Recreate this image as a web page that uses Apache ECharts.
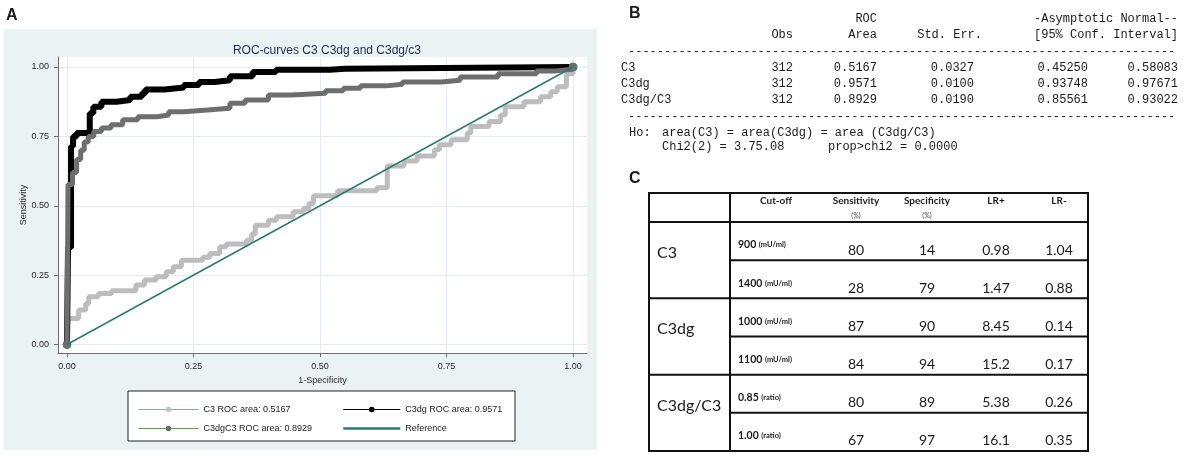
<!DOCTYPE html>
<html>
<head>
<meta charset="utf-8">
<title>ROC-curves C3 C3dg and C3dg/c3</title>
<script src="https://cdn.jsdelivr.net/npm/echarts@6.0.0/dist/echarts.min.js"></script>
<style>
  html, body { margin: 0; padding: 0; background: #fff; }
  #main { width: 1183px; height: 455px; }
</style>
</head>
<body>
<div id="main"></div>
<script>
// ROC steps: each pair is (1-specificity, sensitivity) at the
// left end of a horizontal step
var c3Fpr = [0, 0.002, 0.023, 0.037, 0.043, 0.062, 0.088, 0.136, 0.153, 0.176, 0.196, 0.21, 0.226, 0.268, 0.282, 0.302, 0.315, 0.355, 0.365, 0.372, 0.398, 0.414, 0.447, 0.467, 0.478, 0.487, 0.535, 0.612, 0.633, 0.666, 0.692, 0.726, 0.736, 0.759, 0.791, 0.798, 0.834, 0.857, 0.866, 0.903, 0.936, 0.956, 0.969, 0.987, 1];
var c3Tpr = [0, 0.094, 0.124, 0.148, 0.172, 0.184, 0.194, 0.214, 0.232, 0.244, 0.262, 0.28, 0.304, 0.314, 0.328, 0.352, 0.362, 0.376, 0.398, 0.43, 0.448, 0.46, 0.478, 0.49, 0.508, 0.536, 0.554, 0.565, 0.643, 0.661, 0.679, 0.702, 0.72, 0.738, 0.762, 0.786, 0.804, 0.827, 0.857, 0.875, 0.893, 0.911, 0.929, 0.976, 1];

var c3dgFpr = [0, 0.002, 0.008, 0.012, 0.019, 0.045, 0.052, 0.068, 0.098, 0.125, 0.148, 0.155, 0.193, 0.231, 0.261, 0.292, 0.322, 0.367, 0.413, 0.519, 0.549, 1];
var c3dgTpr = [0, 0.35, 0.714, 0.75, 0.762, 0.833, 0.857, 0.875, 0.881, 0.893, 0.905, 0.919, 0.926, 0.935, 0.946, 0.952, 0.967, 0.982, 0.99, 0.994, 1, 1];

var ratioFpr = [0, 0.002, 0.011, 0.019, 0.027, 0.034, 0.042, 0.053, 0.068, 0.087, 0.11, 0.14, 0.178, 0.201, 0.231, 0.277, 0.322, 0.352, 0.398, 0.443, 0.511, 0.546, 0.58, 0.63, 0.663, 0.739, 0.777, 0.852, 0.928, 0.966, 1];
var ratioTpr = [0, 0.577, 0.62, 0.667, 0.70, 0.73, 0.75, 0.768, 0.78, 0.792, 0.81, 0.821, 0.827, 0.839, 0.845, 0.851, 0.869, 0.881, 0.899, 0.905, 0.914, 0.923, 0.932, 0.938, 0.946, 0.952, 0.964, 0.976, 0.986, 0.992, 1];

var refX = [0, 1];
var refY = [0, 1];

var axisTicks = [0, 0.25, 0.5, 0.75, 1];

var seriesNames = ["C3 ROC area: 0.5167", "C3dg ROC area: 0.9571", "C3dgC3 ROC area: 0.8929", "Reference"];

// panel B (Stata roccomp output)
var bRows = ["C3", "C3dg", "C3dg/C3"];
var bObs = ["312", "312", "312"];
var bArea = ["0.5167", "0.9571", "0.8929"];
var bStdErr = ["0.0327", "0.0100", "0.0190"];
var bCiLow = ["0.45250", "0.93748", "0.85561"];
var bCiHigh = ["0.58083", "0.97671", "0.93022"];

// panel C (cut-off table)
var cGroups = ["C3", "C3dg", "C3dg/C3"];
var cCutoff = ["900", "1400", "1000", "1100", "0.85", "1.00"];
var cUnit = ["(mU/ml)", "(mU/ml)", "(mU/ml)", "(mU/ml)", "(ratio)", "(ratio)"];
var cSens = ["80", "28", "87", "84", "80", "67"];
var cSpec = ["14", "79", "90", "94", "89", "97"];
var cLrPos = ["0.98", "1.47", "8.45", "15.2", "5.38", "16.1"];
var cLrNeg = ["1.04", "0.88", "0.14", "0.17", "0.26", "0.35"];

function pairs(xs, ys) {
  return xs.map(function (x, i) { return [x, ys[i]]; });
}

// plot region in pixels, and where 0 and 1 fall inside it
var GL = 58, GR = 587, GT = 57, GB = 353;
var X0 = 67, X1 = 573, Y1 = 67, Y0 = 344.5;
var xMin = (GL - X0) / (X1 - X0), xMax = 1 + (GR - X1) / (X1 - X0);
var yMin = -(GB - Y0) / (Y0 - Y1), yMax = 1 + (Y1 - GT) / (Y0 - Y1);

var sans = "Liberation Sans, Arial, sans-serif";
var mono = "Liberation Mono, DejaVu Sans Mono, monospace";
var cal = "Lato, Noto Sans, sans-serif";

function txt(x, y, s, size, align, family, extra) {
  var style = {
    text: s, x: x, y: y, fontSize: size, fontFamily: family,
    textAlign: align, textVerticalAlign: "middle", fill: "#1a1a1a"
  };
  for (var k in extra) style[k] = extra[k];
  return { type: "text", silent: true, style: style };
}
function hline(x1, x2, y, w) {
  return { type: "line", silent: true, shape: { x1: x1, y1: y, x2: x2, y2: y }, style: { stroke: "#111", lineWidth: w } };
}
function vline(x, y1, y2, w) {
  return { type: "line", silent: true, shape: { x1: x, y1: y1, x2: x, y2: y2 }, style: { stroke: "#111", lineWidth: w } };
}

var graphics = [];
// panel A graph region + legend box
graphics.push({ type: "rect", z: -5, silent: true, shape: { x: 4, y: 29, width: 593, height: 421 }, style: { fill: "#eaf2f3" } });
graphics.push({ type: "rect", z: 3, silent: true, shape: { x: 128, y: 391, width: 387, height: 50 }, style: { fill: "#fff", stroke: "#222", lineWidth: 1 } });

// panel letters
graphics.push(txt(6, 16, "A", 16, "left", sans, { fontWeight: "bold" }));
graphics.push(txt(629, 14, "B", 16, "left", sans, { fontWeight: "bold" }));
graphics.push(txt(629, 179, "C", 16, "left", sans, { fontWeight: "bold" }));

// panel B
var bRight = [793, 877, 974, 1088, 1178];
graphics.push(txt(877, 19, "ROC", 12, "right", mono));
graphics.push(txt(1178, 19, "-Asymptotic Normal--", 12, "right", mono));
graphics.push(txt(793, 35, "Obs", 12, "right", mono));
graphics.push(txt(877, 35, "Area", 12, "right", mono));
graphics.push(txt(982, 35, "Std. Err.", 12, "right", mono));
graphics.push(txt(1178, 35, "[95% Conf. Interval]", 12, "right", mono));
graphics.push(txt(628, 52, new Array(77).join("-"), 12, "left", mono));
bRows.forEach(function (r, i) {
  var y = 68 + 16 * i;
  graphics.push(txt(621, y, r, 12, "left", mono));
  [bObs[i], bArea[i], bStdErr[i], bCiLow[i], bCiHigh[i]].forEach(function (v, j) {
    graphics.push(txt(bRight[j], y, v, 12, "right", mono));
  });
});
graphics.push(txt(628, 117, new Array(77).join("-"), 12, "left", mono));
graphics.push(txt(629, 133, "Ho:", 12, "left", mono));
graphics.push(txt(662, 133, "area(C3) = area(C3dg) = area (C3dg/C3)", 12, "left", mono));
graphics.push(txt(662, 147, "Chi2(2) = 3.75.08", 12, "left", mono));
graphics.push(txt(828, 147, "prop>chi2 = 0.0000", 12, "left", mono));

// panel C
var tL = 649, tR = 1088, tT = 193, tB = 451, tDiv = 730, tHead = 222;
var rowH = (tB - tHead) / cCutoff.length;
var colX = [856, 927, 996, 1059];
graphics.push({ type: "rect", silent: true, shape: { x: tL, y: tT, width: tR - tL, height: tB - tT }, style: { fill: "none", stroke: "#111", lineWidth: 2 } });
graphics.push(vline(tDiv, tT, tB, 2));
graphics.push(hline(tL, tR, tHead, 2));
for (var r = 1; r < cCutoff.length; r++) {
  graphics.push(hline(r % 2 === 0 ? tL : tDiv, tR, tHead + r * rowH, 2));
}
graphics.push(txt(776, 201, "Cut-off", 10, "center", cal, { fontWeight: "bold" }));
graphics.push(txt(colX[0], 201, "Sensitivity", 10, "center", cal, { fontWeight: "bold" }));
graphics.push(txt(colX[1], 201, "Specificity", 10, "center", cal, { fontWeight: "bold" }));
graphics.push(txt(colX[2], 201, "LR+", 10, "center", cal, { fontWeight: "bold" }));
graphics.push(txt(colX[3], 201, "LR-", 10, "center", cal, { fontWeight: "bold" }));
graphics.push(txt(colX[0], 216, "(%)", 7, "center", cal, { fill: "#444" }));
graphics.push(txt(colX[1], 216, "(%)", 7, "center", cal, { fill: "#444" }));
cGroups.forEach(function (g, i) {
  graphics.push(txt(657, tHead + 2 * i * rowH + 31, g, 16, "left", cal));
});
cCutoff.forEach(function (c, i) {
  var top = tHead + i * rowH;
  graphics.push(txt(738, top + 23, "{n|" + c + "} {u|" + cUnit[i] + "}", 10, "left", cal, {
    rich: {
      n: { fontSize: 10.5, fontWeight: "bold", fontFamily: cal, fill: "#1a1a1a" },
      u: { fontSize: 7.5, fontWeight: "bold", fontFamily: cal, fill: "#1a1a1a" }
    }
  }));
  [cSens[i], cSpec[i], cLrPos[i], cLrNeg[i]].forEach(function (v, j) {
    graphics.push(txt(colX[j], top + 28, v, 14, "center", cal));
  });
});

function endSymbol(n, size) {
  return function (val, params) {
    return (params.dataIndex === 0 || params.dataIndex === n - 1) ? size : 0;
  };
}

var axisCommon = {
  type: "value",
  axisLine: { show: true, onZero: false, lineStyle: { color: "#6e6e6e", width: 1 } },
  axisTick: { show: true, length: 4, customValues: axisTicks, lineStyle: { color: "#6e6e6e" } },
  axisLabel: {
    customValues: axisTicks, fontSize: 9, color: "#2a2a2a", fontFamily: sans, margin: 9,
    formatter: function (v) { return v.toFixed(2); }
  },
  splitLine: { show: true, lineStyle: { color: "#e2edf0", width: 1 } },
  nameLocation: "middle",
  nameTextStyle: { fontSize: 9, color: "#2a2a2a", fontFamily: sans }
};

var chart = echarts.init(document.getElementById("main"), null, { renderer: "canvas" });
chart.setOption({
  animation: false,
  backgroundColor: "#fff",
  title: {
    text: "ROC-curves C3 C3dg and C3dg/c3",
    left: 322, top: 40, textAlign: "center",
    textStyle: { fontSize: 12, fontWeight: "normal", color: "#1f2c4f", fontFamily: sans }
  },
  grid: {
    left: GL, right: 1183 - GR, top: GT, bottom: 455 - GB,
    show: true, backgroundColor: "#fff", borderWidth: 0, containLabel: false, outerBoundsMode: "none"
  },
  xAxis: Object.assign({}, axisCommon, { min: xMin, max: xMax, name: "1-Specificity", nameGap: 20 }),
  yAxis: Object.assign({}, axisCommon, { min: yMin, max: yMax, name: "Sensitivity", nameGap: 30 }),
  legend: [
    {
      orient: "vertical", left: 133, top: 400, itemWidth: 60, itemHeight: 7, itemGap: 10, selectedMode: false,
      textStyle: { fontSize: 9, color: "#222", fontFamily: sans },
      data: [
        { name: seriesNames[0], itemStyle: { color: "#c4c4c4", borderWidth: 0 }, lineStyle: { color: "#86a3c2", width: 1 } },
        { name: seriesNames[2], itemStyle: { color: "#6e6e6e", borderWidth: 0 }, lineStyle: { color: "#5aa14d", width: 1 } }
      ]
    },
    {
      orient: "vertical", left: 337, top: 400, itemWidth: 57, itemHeight: 7, itemGap: 10, selectedMode: false,
      textStyle: { fontSize: 9, color: "#222", fontFamily: sans },
      data: [
        { name: seriesNames[1], itemStyle: { color: "#000", borderWidth: 0 }, lineStyle: { color: "#000", width: 1 } },
        { name: seriesNames[3], itemStyle: { color: "rgba(0,0,0,0)", opacity: 0, borderWidth: 0 }, lineStyle: { color: "#2b7a6c", width: 2.5 } }
      ]
    }
  ],
  series: [
    {
      name: seriesNames[0], type: "line", step: "end", data: pairs(c3Fpr, c3Tpr),
      symbol: "circle", symbolSize: endSymbol(c3Fpr.length, 0),
      lineStyle: { color: "#bdbdbd", width: 5 }, itemStyle: { color: "#bdbdbd" }, z: 2, silent: true
    },
    {
      name: seriesNames[1], type: "line", step: "end", data: pairs(c3dgFpr, c3dgTpr),
      symbol: "circle", symbolSize: endSymbol(c3dgFpr.length, 0),
      lineStyle: { color: "#000", width: 6 }, itemStyle: { color: "#000" }, z: 3, silent: true
    },
    {
      name: seriesNames[2], type: "line", step: "end", data: pairs(ratioFpr, ratioTpr),
      symbol: "circle", symbolSize: endSymbol(ratioFpr.length, 8),
      lineStyle: { color: "#6e6e6e", width: 5 }, itemStyle: { color: "#6e6e6e", borderColor: "#3d7f72", borderWidth: 1 }, z: 4, silent: true
    },
    {
      name: seriesNames[3], type: "line", data: pairs(refX, refY), symbol: "none",
      lineStyle: { color: "#2b7a6c", width: 1.5 }, itemStyle: { color: "#2b7a6c" }, z: 5, silent: true
    }
  ],
  graphic: graphics
});
</script>
</body>
</html>
